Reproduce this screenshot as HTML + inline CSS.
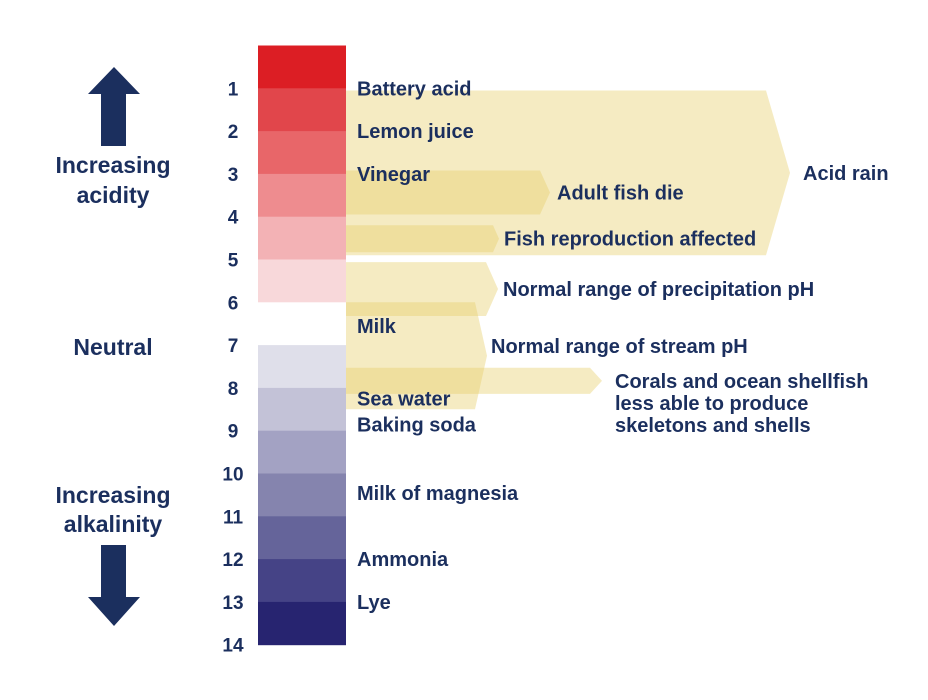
<!DOCTYPE html>
<html><head><meta charset="utf-8"><style>
body{margin:0;background:#fff}
svg{display:block;font-family:"Liberation Sans",sans-serif;font-weight:bold}
text{fill:#1b2f5e}
</style></head><body>
<svg id="chart" width="928" height="700" viewBox="0 0 928 700">
<g id="bands"></g>
<g id="scale"></g>
<g id="labels"></g>
<polygon points="114,67 140,94 126,94 126,146 101,146 101,94 88,94" fill="#1b2f5e"/>
<text x="113" y="173" font-size="23" text-anchor="middle">Increasing</text>
<text x="113" y="203" font-size="23" text-anchor="middle">acidity</text>
<text x="113" y="355" font-size="23" text-anchor="middle">Neutral</text>
<text x="113" y="503" font-size="23" text-anchor="middle">Increasing</text>
<text x="113" y="532" font-size="23" text-anchor="middle">alkalinity</text>
<polygon points="114,626 140,597 126,597 126,545 101,545 101,597 88,597" fill="#1b2f5e"/>
</svg>
<script>
const phTicks=[1,2,3,4,5,6,7,8,9,10,11,12,13,14];
const blockColors=["#dc1e24","#e1464b","#e86669","#ee8c8f","#f3b2b5","#f8d8da","#ffffff","#dfdfea","#c3c2d7","#a3a2c3","#8584ae","#65649a","#454386","#272470"];
const substanceNames=["Battery acid","Lemon juice","Vinegar","Milk","Sea water","Baking soda","Milk of magnesia","Ammonia","Lye"];
const substancePH=[1,2,3,6.55,8.25,8.85,10.45,12,13];
const bandNames=["Acid rain","Adult fish die","Fish reproduction affected","Normal range of precipitation pH","Normal range of stream pH","Corals and ocean shellfish"];
const bandLow=[1.05,2.92,4.2,5.06,6.0,7.53];
const bandHigh=[4.9,3.95,4.83,6.32,8.5,8.14];
const bandRight=[766,540,493,486,475,590];
const tipLen=[24,10,6,12,12,12];
const labelShift=[0,0,0,0,-10,0];
const labelGap=[13,7,5,5,4,13];
const NS="http://www.w3.org/2000/svg";
function y(ph){return 45.5+42.8*ph;}
function mk(t,a,p){const e=document.createElementNS(NS,t);for(const k in a)e.setAttribute(k,a[k]);p.appendChild(e);return e;}
const sc=document.getElementById('scale'),lb=document.getElementById('labels'),bd=document.getElementById('bands');
blockColors.forEach((c,i)=>{
 const r=mk('rect',{x:258,y:y(i),width:88,height:y(i+1)-y(i)+0.5,fill:c},sc);
 
 
});
phTicks.forEach(t=>{
 const e=mk('text',{x:233,y:y(t)+7,'font-size':19,'text-anchor':'middle'},lb);e.textContent=t;
 
 
});
bandNames.forEach((n,i)=>{
 const t=y(bandLow[i]),b=y(bandHigh[i]),m=(t+b)/2,r=bandRight[i],tip=r+tipLen[i];
 const p=mk('polygon',{points:`346,${t} ${r},${t} ${tip},${m} ${r},${b} 346,${b}`,fill:'rgb(232,208,110)','fill-opacity':0.42},bd);
 
 
 const lx=tip+labelGap[i];
 const tx=mk('text',{x:lx,y:m+7+labelShift[i],'font-size':20},lb);tx.textContent=n;
 
 
 if(i===5){
  ["less able to produce","skeletons and shells"].forEach((s,k)=>{const e=mk('text',{x:lx,y:m+7+(k+1)*22,'font-size':20},lb);e.textContent=s;
  
  });}
});
substanceNames.forEach((n,i)=>{
 const e=mk('text',{x:357,y:y(substancePH[i])+7,'font-size':20},lb);e.textContent=n;
 
 
});
</script>
</body></html>
